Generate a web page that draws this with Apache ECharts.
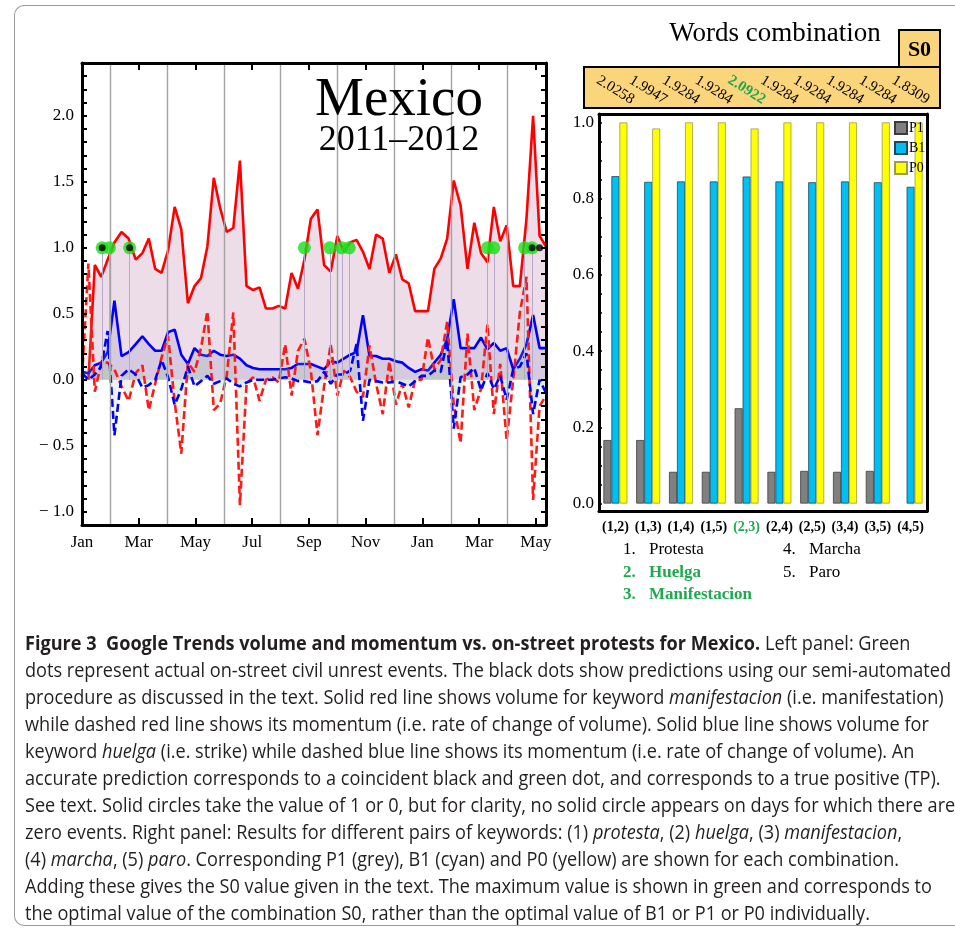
<!DOCTYPE html>
<html><head><meta charset="utf-8">
<script src="https://cdn.jsdelivr.net/npm/echarts@6/dist/echarts.min.js"></script>
<style>
html,body{margin:0;padding:0;background:#fff;}
#chart{position:absolute;left:0;top:0;width:955px;height:931px;z-index:1;}
#frame{position:absolute;left:14px;top:5px;width:960px;height:921px;border:1.3px solid #9a9a9a;border-right:none;border-radius:10px 0 0 10px;box-sizing:border-box;z-index:2;pointer-events:none;}
#caption{position:absolute;left:25px;top:628.5px;font-family:'Open Sans','Noto Sans',sans-serif;font-size:20px;line-height:27.1px;color:#231f20;white-space:nowrap;transform-origin:0 0;z-index:3;}
#caption div{white-space:nowrap;display:block;}
#caption span.m{display:inline-block;}
</style></head>
<body>
<div id="chart"></div>
<div id="frame"></div>
<div id="caption">
<div><span id="l1" class="m"><b>Figure 3&nbsp; Google Trends volume and momentum vs. on-street protests for Mexico.</b> Left panel: Green</span></div>
<div><span id="l2" class="m">dots represent actual on-street civil unrest events. The black dots show predictions using our semi-automated</span></div>
<div>procedure as discussed in the text. Solid red line shows volume for keyword <i>manifestacion</i> (i.e. manifestation)</div>
<div>while dashed red line shows its momentum (i.e. rate of change of volume). Solid blue line shows volume for</div>
<div>keyword <i>huelga</i> (i.e. strike) while dashed blue line shows its momentum (i.e. rate of change of volume). An</div>
<div>accurate prediction corresponds to a coincident black and green dot, and corresponds to a true positive (TP).</div>
<div>See text. Solid circles take the value of 1 or 0, but for clarity, no solid circle appears on days for which there are</div>
<div>zero events. Right panel: Results for different pairs of keywords: (1) <i>protesta</i>, (2) <i>huelga</i>, (3) <i>manifestacion</i>,</div>
<div>(4) <i>marcha</i>, (5) <i>paro</i>. Corresponding P1 (grey), B1 (cyan) and P0 (yellow) are shown for each combination.</div>
<div>Adding these gives the S0 value given in the text. The maximum value is shown in green and corresponds to</div>
<div>the optimal value of the combination S0, rather than the optimal value of B1 or P1 or P0 individually.</div>
</div>
<script>
// ---------------- DATA ----------------
const weekStart = '2011-01-01';   // weekly samples, one per 7 days
const xMaxDate = '2012-05-12';
const monthTickLabels = ['Jan','Mar','May','Jul','Sep','Nov','Jan','Mar','May'];

const redVolume = [null, 0.00, 0.87, 0.78, 0.91, 1.04, 1.12, 1.07, 0.91, 0.96, 1.07, 0.84, 0.81, 0.98, 1.31, 1.14, 0.58, 0.71, 0.77, 1.01, 1.53, 1.30, 1.12, 1.15, 1.66, 0.71, 0.68, 0.70, 0.54, 0.54, 0.56, 0.54, 0.81, 0.69, 0.91, 1.22, 1.29, 0.87, 0.82, 1.09, 0.97, 1.04, 1.06, 0.97, 0.84, 1.10, 1.07, 0.81, 0.95, 0.76, 0.73, 0.52, 0.52, 0.52, 0.84, 0.92, 1.07, 1.51, 1.32, 0.84, 1.19, 0.96, 0.89, 1.31, 1.05, 1.17, 0.71, 0.71, 1.22, 2.00, 1.09, 1.01];
const redMomentum = [0.02, 0.88, -0.09, 0.13, 0.13, 0.08, -0.05, -0.16, 0.05, 0.11, -0.23, -0.03, 0.17, 0.33, -0.17, -0.56, 0.13, 0.06, 0.24, 0.52, -0.23, -0.18, 0.03, 0.51, -0.95, -0.03, 0.02, -0.16, 0.00, 0.02, -0.02, 0.27, -0.12, 0.22, 0.31, 0.07, -0.42, -0.05, 0.27, -0.12, 0.07, 0.02, -0.09, -0.13, 0.26, -0.03, -0.26, 0.14, -0.19, -0.03, -0.21, 0.00, 0.00, 0.32, 0.08, 0.15, 0.44, -0.19, -0.48, 0.35, -0.23, -0.07, 0.42, -0.26, 0.12, -0.46, 0.00, 0.51, 0.78, -0.91, -0.20, -0.12];
const blueVolume = [0.06, 0.05, 0.11, 0.13, 0.21, 0.60, 0.18, 0.21, 0.27, 0.33, 0.27, 0.22, 0.22, 0.36, 0.38, 0.19, 0.12, 0.24, 0.19, 0.18, 0.22, 0.19, 0.18, 0.19, 0.16, 0.11, 0.09, 0.08, 0.08, 0.08, 0.08, 0.08, 0.09, 0.12, 0.12, 0.12, 0.10, 0.08, 0.14, 0.13, 0.16, 0.19, 0.21, 0.49, 0.18, 0.18, 0.16, 0.16, 0.14, 0.13, 0.09, 0.06, 0.08, 0.07, 0.13, 0.19, 0.31, 0.61, 0.24, 0.24, 0.24, 0.32, 0.23, 0.28, 0.22, 0.24, 0.08, 0.16, 0.27, 0.49, 0.24, 0.24];
const blueMomentum = [0.05, 0.00, 0.04, 0.10, 0.37, -0.42, 0.03, 0.08, 0.04, -0.06, -0.04, 0.00, 0.15, 0.02, -0.19, -0.07, 0.10, -0.05, -0.01, 0.03, -0.03, -0.01, 0.01, -0.03, -0.05, -0.02, 0.00, 0.00, 0.00, 0.00, 0.01, 0.02, 0.01, -0.01, -0.01, -0.02, -0.01, 0.06, -0.03, 0.04, 0.04, 0.07, 0.27, -0.31, 0.00, -0.01, -0.02, -0.02, -0.01, -0.03, -0.05, -0.01, 0.03, 0.03, 0.07, 0.06, 0.30, -0.37, 0.02, 0.04, 0.09, -0.08, 0.05, -0.07, 0.03, -0.15, 0.08, 0.10, 0.20, -0.26, 0.00, -0.10];
const eventDates = ['2011-01-23','2011-01-31','2011-02-20','2011-08-27','2011-09-23','2011-10-06','2011-10-14','2012-03-10','2012-03-17','2012-04-19','2012-04-27'];
const predictionDates = ['2011-01-23','2011-02-20','2012-04-27','2012-05-05'];

const pairs = ['(1,2)','(1,3)','(1,4)','(1,5)','(2,3)','(2,4)','(2,5)','(3,4)','(3,5)','(4,5)'];
const P1 = [0.1667, 0.1667, 0.0833, 0.0833, 0.25, 0.0833, 0.0857, 0.0833, 0.0857, 0];
const B1 = [0.859, 0.844, 0.845, 0.845, 0.858, 0.845, 0.843, 0.845, 0.843, 0.831];
const P0 = [1.0, 0.984, 1.0, 1.0, 0.984, 1.0, 1.0, 1.0, 1.0, 1.0];
const S0 = [2.0258, 1.9947, 1.9284, 1.9284, 2.0922, 1.9284, 1.9284, 1.9284, 1.9284, 1.8309];
const keywords = ['Protesta','Huelga','Manifestacion','Marcha','Paro'];
const barYLabels = [0, 0.2, 0.4, 0.6, 0.8, 1.0];

// ---------------- HELPERS ----------------
const serif = "'Liberation Serif','DejaVu Serif',serif";
const green = '#1ea84f';
function parseDate(s){ const p = s.split('-').map(Number); return Date.UTC(p[0], p[1]-1, p[2]); }
function monthFrac(t){
  const d = new Date(t), y = d.getUTCFullYear(), m = d.getUTCMonth(), day = d.getUTCDate();
  const dim = new Date(Date.UTC(y, m+1, 0)).getUTCDate();
  return (y-2011)*12 + m + (day-1)/dim;
}
const t0 = parseDate(weekStart);
const weekX = redVolume.map((_, i) => monthFrac(t0 + i*7*86400000));
const toXY = arr => arr.map((v, i) => [weekX[i], v]).filter(p => p[1] !== null);
const xMax = monthFrac(parseDate(xMaxDate));
const bestIdx = S0.indexOf(Math.max(...S0));
const bestWords = pairs[bestIdx].replace(/[()]/g,'').split(',').map(Number);

const eventX = eventDates.map(s => monthFrac(parseDate(s)));
const predX = predictionDates.map(s => monthFrac(parseDate(s)));
const oddMonths = []; for (let m = 1; m < xMax; m += 2) oddMonths.push({xAxis: m});
const barTicks = []; for (let k = 0; k <= 20; k++) barTicks.push(+(k*0.05).toFixed(2));

// ---------------- CHART ----------------
const chart = echarts.init(document.getElementById('chart'), null, {renderer:'canvas'});

const leftXAxisBase = {
  gridIndex: 0, type: 'value', min: 0, max: xMax, interval: 2,
  axisLine: {show: true, onZero: false, lineStyle: {color: '#000', width: 3}},
  axisTick: {show: true, inside: true, length: 7, lineStyle: {color: '#000', width: 2}},
  splitLine: {show: false}, z: 5
};
const leftYAxisBase = {
  gridIndex: 0, type: 'value', min: -1.1, max: 2.4, interval: 0.1,
  axisLine: {show: true, onZero: false, lineStyle: {color: '#000', width: 3}},
  axisTick: {show: true, inside: true, length: 5, lineStyle: {color: '#000', width: 2}},
  splitLine: {show: false}, z: 5
};
function yFmt(v){
  if (Math.abs(v*2 - Math.round(v*2)) > 1e-6) return '';
  const s = Math.abs(v).toFixed(1);
  return v < -1e-9 ? '\u2212 ' + s : s;
}

const option = {
  animation: false,
  backgroundColor: '#fff',
  grid: [
    {left: 82, top: 63, width: 464, height: 462},
    {left: 599, top: 114, width: 328, height: 397}
  ],
  xAxis: [
    Object.assign({}, leftXAxisBase, {position: 'bottom',
      axisLabel: {show: true, showMinLabel: true, showMaxLabel: true, margin: 9, color: '#000', fontFamily: serif, fontSize: 17,
        formatter: v => (Math.abs(v/2 - Math.round(v/2)) < 1e-6 && monthTickLabels[Math.round(v/2)]) ? monthTickLabels[Math.round(v/2)] : ''}}),
    Object.assign({}, leftXAxisBase, {position: 'top', axisLabel: {show: false}}),
    {gridIndex: 1, type: 'category', data: pairs, position: 'bottom', z: 5,
      axisLine: {show: true, onZero: false, lineStyle: {color: '#000', width: 3}},
      axisTick: {show: false},
      axisLabel: {interval: 0, margin: 9, color: '#000', fontFamily: serif, fontSize: 14, fontWeight: 'bold',
        formatter: (v, i) => i === bestIdx ? '{g|' + v + '}' : v,
        rich: {g: {color: green, fontFamily: serif, fontSize: 14, fontWeight: 'bold'}}}},
    {gridIndex: 1, type: 'category', data: S0.map(v => v.toFixed(4)), position: 'top', z: 5,
      axisLine: {show: true, onZero: false, lineStyle: {color: '#000', width: 3}},
      axisTick: {show: false},
      axisLabel: {interval: 0, rotate: 32, align: 'center', verticalAlign: 'middle', margin: 24,
        color: '#000', fontFamily: serif, fontSize: 15,
        formatter: (v, i) => i === bestIdx ? '{g|' + v + '}' : v,
        rich: {g: {color: green, fontFamily: serif, fontSize: 15, fontWeight: 'bold'}}}}
  ],
  yAxis: [
    Object.assign({}, leftYAxisBase, {position: 'left',
      axisLabel: {show: true, margin: 8, color: '#000', fontFamily: serif, fontSize: 17, formatter: yFmt}}),
    Object.assign({}, leftYAxisBase, {position: 'right', axisLabel: {show: false}}),
    {gridIndex: 1, type: 'value', min: -0.0195, max: 1.022, position: 'left', z: 5,
      axisLine: {show: true, onZero: false, lineStyle: {color: '#000', width: 3}},
      axisTick: {show: true, inside: true, length: 3, customValues: barTicks, lineStyle: {color: '#000', width: 1.5}},
      axisLabel: {show: true, customValues: barYLabels, margin: 5, color: '#000', fontFamily: serif, fontSize: 17, formatter: v => v.toFixed(1)},
      splitLine: {show: false}},
    {gridIndex: 1, type: 'value', min: -0.0195, max: 1.022, position: 'right', z: 5,
      axisLine: {show: true, onZero: false, lineStyle: {color: '#000', width: 3}},
      axisTick: {show: false}, axisLabel: {show: false}, splitLine: {show: false}}
  ],
  legend: {
    data: ['P1','B1','P0'], orient: 'vertical', left: 894, top: 121, padding: 0,
    itemWidth: 12, itemHeight: 12, itemGap: 6, icon: 'rect',
    textStyle: {fontFamily: serif, fontSize: 14, color: '#000', padding: [0,0,0,-3]}
  },
  series: [
    {type: 'line', xAxisIndex: 0, yAxisIndex: 0, data: [], z: 1, silent: true,
      markLine: {silent: true, symbol: ['none','none'], label: {show: false},
        lineStyle: {color: '#a3a3a3', width: 1.4, type: 'solid'}, data: oddMonths}},
    {type: 'line', name: 'manifestacion volume', xAxisIndex: 0, yAxisIndex: 0, data: toXY(redVolume), z: 2,
      showSymbol: false, symbol: 'none', lineStyle: {color: '#ff0000', width: 2.6},
      areaStyle: {color: 'rgba(185,120,168,0.36)'}},
    {type: 'line', name: 'huelga volume', xAxisIndex: 0, yAxisIndex: 0, data: toXY(blueVolume), z: 3,
      showSymbol: false, symbol: 'none', lineStyle: {color: '#0000ff', width: 2.6},
      areaStyle: {color: 'rgba(60,60,170,0.18)'}},
    {type: 'line', name: 'manifestacion momentum', xAxisIndex: 0, yAxisIndex: 0, data: toXY(redMomentum), z: 4,
      showSymbol: false, symbol: 'none', lineStyle: {color: '#ff1a1a', width: 2.6, type: [8,4]},
      areaStyle: {color: 'rgba(140,190,140,0.24)'}},
    {type: 'line', name: 'huelga momentum', xAxisIndex: 0, yAxisIndex: 0, data: toXY(blueMomentum), z: 4,
      showSymbol: false, symbol: 'none', lineStyle: {color: '#0000ff', width: 2.6, type: [8,4]},
      areaStyle: {color: 'rgba(140,190,140,0.24)'}},
    {type: 'scatter', name: 'events', xAxisIndex: 0, yAxisIndex: 0, z: 6,
      data: eventX.map(x => [x, 1]), symbolSize: 13, itemStyle: {color: '#19df19'},
      markLine: {silent: true, symbol: ['none','none'], label: {show: false},
        lineStyle: {color: '#b7a7c9', width: 1, type: 'solid'},
        data: eventX.map(x => [{coord: [x, 0]}, {coord: [x, 1]}])}},
    {type: 'scatter', name: 'predictions', xAxisIndex: 0, yAxisIndex: 0, z: 7,
      data: predX.map(x => [x, 1]), symbolSize: 7, itemStyle: {color: '#000'}},
    {type: 'bar', name: 'P1', xAxisIndex: 2, yAxisIndex: 2, barWidth: 8, barGap: '0%',
      data: P1.map(v => v === 0 ? {value: 0, itemStyle: {borderWidth: 0}} : v),
      itemStyle: {color: '#808080', borderColor: '#3c3c3c', borderWidth: 0.8}},
    {type: 'bar', name: 'B1', xAxisIndex: 2, yAxisIndex: 2, barWidth: 8, barGap: '0%', data: B1,
      itemStyle: {color: '#00bff2', borderColor: '#1d4a5a', borderWidth: 0.8}},
    {type: 'bar', name: 'P0', xAxisIndex: 2, yAxisIndex: 2, barWidth: 8, barGap: '0%', data: P0,
      itemStyle: {color: '#ffff00', borderColor: '#9a9a50', borderWidth: 0.8}}
  ],
  graphic: [
    {type: 'text', z: 10, style: {x: 399, y: 101, text: 'Mexico', font: '55px ' + serif, fill: '#000', textAlign: 'center', textVerticalAlign: 'middle', align: 'center', verticalAlign: 'middle'}},
    {type: 'text', z: 10, style: {x: 399, y: 141, text: '2011\u20132012', font: '36px ' + serif, fill: '#000', textAlign: 'center', textVerticalAlign: 'middle', align: 'center', verticalAlign: 'middle'}},
    {type: 'text', z: 10, style: {x: 775, y: 34, text: 'Words combination', font: '27px ' + serif, fill: '#000', textAlign: 'center', textVerticalAlign: 'middle', align: 'center', verticalAlign: 'middle'}},
    {type: 'rect', z: 0, shape: {x: 584, y: 67, width: 356, height: 41}, style: {fill: '#fbd57c', stroke: '#000', lineWidth: 2}},
    {type: 'rect', z: 0, shape: {x: 899, y: 30, width: 41, height: 37}, style: {fill: '#fbd57c', stroke: '#000', lineWidth: 2}},
    {type: 'text', z: 10, style: {x: 919.5, y: 50, text: 'S0', font: 'bold 22px ' + serif, fill: '#000', textAlign: 'center', textVerticalAlign: 'middle', align: 'center', verticalAlign: 'middle'}}
  ].concat(keywords.flatMap((w, k) => {
    const col = k < 3 ? 0 : 1, row = k < 3 ? k : k - 3;
    const hi = bestWords.indexOf(k + 1) >= 0;
    const x0 = 623 + col * 160, y0 = 550 + row * 22.3;
    const font = (hi ? 'bold ' : '') + '17px ' + serif;
    const fill = hi ? green : '#000';
    return [
      {type: 'text', z: 10, style: {x: x0, y: y0, text: (k + 1) + '.', font: font, fill: fill, textVerticalAlign: 'middle', verticalAlign: 'middle'}},
      {type: 'text', z: 10, style: {x: x0 + 26, y: y0, text: w, font: font, fill: fill, textVerticalAlign: 'middle', verticalAlign: 'middle'}}
    ];
  }))
};
chart.setOption(option);

// fit caption width to the reference text block
(function(){
  const cap = document.getElementById('caption');
  const l2 = document.getElementById('l2');
  const w = l2.getBoundingClientRect().width;
  const s = 926 / w;
  cap.style.transform = 'scaleX(' + s + ')';
})();
</script>
</body></html>
